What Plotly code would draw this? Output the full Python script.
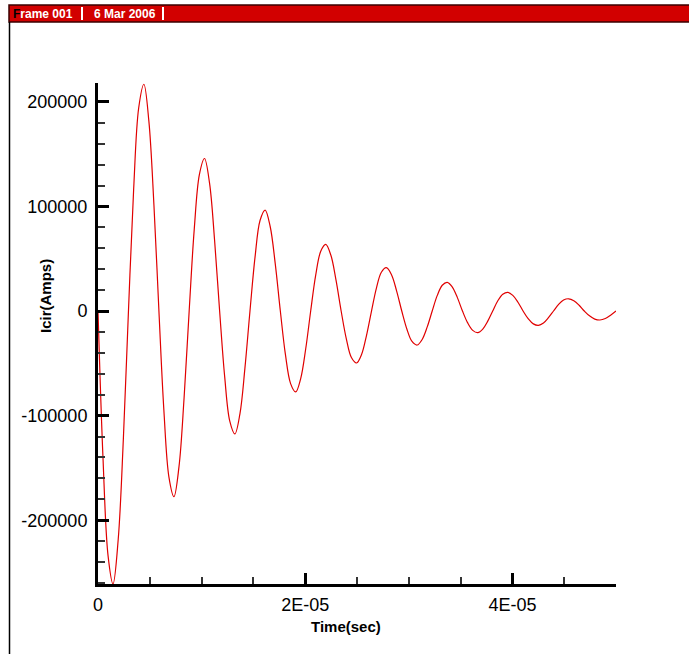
import plotly.graph_objects as go

# Time (microseconds) and circulating current (A)
time_us = [0, 0.48, 0.97, 1.45, 1.95, 2.45, 2.94, 3.44, 3.93, 4.43, 4.91, 5.40,
           5.88, 6.36, 6.85, 7.33, 7.82, 8.31, 8.80, 9.29, 9.79, 10.28, 10.77, 11.25,
           11.74, 12.23, 12.72, 13.21, 13.70, 14.18, 14.67, 15.16, 15.64, 16.13, 16.62, 17.11,
           17.60, 18.09, 18.59, 19.08, 19.56, 20.05, 20.53, 21.01, 21.50, 21.98, 22.48, 22.97,
           23.47, 23.97, 24.46, 24.96, 25.44, 25.92, 26.40, 26.88, 27.35, 27.83, 28.33, 28.82,
           29.32, 29.82, 30.31, 30.81, 31.29, 31.78, 32.26, 32.74, 33.23, 33.71, 34.20, 34.69,
           35.18, 35.67, 36.17, 36.66, 37.14, 37.62, 38.10, 38.58, 39.07, 39.55, 40.04, 40.54,
           41.03, 41.52, 42.02, 42.51, 43.00, 43.48, 43.97, 44.46, 44.94, 45.43, 45.93, 46.44,
           46.94, 47.44, 47.95, 48.45, 48.97, 49.48, 50.0]
icir = [0, -139900, -233900, -261000, -218500, -121900, 0, 116200, 194300, 216800, 181500, 101200,
        0, -95100, -159000, -177500, -148600, -82900, 0, 78100, 130600, 145800, 122000, 68100,
        0, -63000, -105300, -117500, -98300, -54900, 0, 51700, 86500, 96500, 80800, 45100,
        0, -41500, -69400, -77400, -64800, -36100, 0, 34100, 57100, 63700, 53300, 29700,
        0, -26600, -44500, -49700, -41600, -23200, 0, 22200, 37100, 41400, 34700, 19300,
        0, -17400, -29100, -32500, -27200, -15200, 0, 14700, 24600, 27400, 22900, 12800,
        0, -11100, -18500, -20700, -17300, -9700, 0, 9600, 16000, 17900, 15000, 8400,
        0, -7300, -12300, -13700, -11500, -6400, 0, 6300, 10500, 11700, 9800, 5500,
        0, -4600, -7700, -8600, -7200, -4000, 0]
time_s = [t * 1e-6 for t in time_us]

x_tickvals = [0, 2e-5, 4e-5]
x_ticktext = ["0", "2E-05", "4E-05"]
y_tickvals = [-200000, -100000, 0, 100000, 200000]
y_ticktext = ["-200000", "-100000", "0", "100000", "200000"]

W, H = 689, 654
L, R, T, B = 98, 616, 83, 584  # plot area in pixels

def px(x):
    return (x - L) / (R - L)

def py(y):
    return (B - y) / (B - T)

FONT = "Liberation Sans, Arial, sans-serif"

fig = go.Figure()
fig.add_trace(go.Scatter(x=time_s, y=icir, mode="lines",
                         line=dict(color="#E00000", width=1.2, shape="spline", smoothing=1.0),
                         hoverinfo="skip", showlegend=False))

axis_common = dict(showgrid=False, zeroline=False, showline=True, linecolor="black",
                   linewidth=3, ticks="inside", tickcolor="black", tickwidth=3, ticklen=11,
                   tickfont=dict(family=FONT, size=18, color="black"))

fig.update_xaxes(range=[0, 5e-5], tickvals=x_tickvals, ticktext=x_ticktext,
                 minor=dict(ticks="inside", dtick=5e-6, tick0=0, ticklen=7, tickwidth=1.5,
                            tickcolor="#333333"),
                 ticklabelstandoff=2, **axis_common)
fig.update_yaxes(range=[-261000, 218000], tickvals=y_tickvals, ticktext=y_ticktext,
                 minor=dict(ticks="inside", dtick=20000, tick0=0, ticklen=7, tickwidth=1.5,
                            tickcolor="#333333"),
                 ticklabelstandoff=4, **axis_common)

shapes = [
    # header bar
    dict(type="rect", xref="paper", yref="paper", x0=px(9), x1=px(690), y0=py(22), y1=py(5),
         fillcolor="#D20000", line=dict(color="#3a0000", width=1.5), layer="above"),
    dict(type="line", xref="paper", yref="paper", x0=px(82), x1=px(82), y0=py(20), y1=py(7),
         line=dict(color="white", width=2)),
    dict(type="line", xref="paper", yref="paper", x0=px(163), x1=px(163), y0=py(20), y1=py(7),
         line=dict(color="white", width=2)),
    # frame left border
    dict(type="line", xref="paper", yref="paper", x0=px(9.5), x1=px(9.5), y0=py(22), y1=py(660),
         line=dict(color="black", width=1.5)),
]

annotations = [
    dict(text="<span style='color:black'>F</span>rame 001", xref="paper", yref="paper",
         x=px(11), y=py(13.5), xanchor="left", yanchor="middle", showarrow=False,
         font=dict(family=FONT, size=12, color="white", weight="bold")),
    dict(text="6 Mar 2006", xref="paper", yref="paper",
         x=px(92), y=py(13.5), xanchor="left", yanchor="middle", showarrow=False,
         font=dict(family=FONT, size=12, color="white", weight="bold")),
    dict(text="Time(sec)", xref="paper", yref="paper", x=px(346), y=py(626),
         xanchor="center", yanchor="middle", showarrow=False,
         font=dict(family=FONT, size=15, color="black", weight="bold")),
    dict(text="Icir(Amps)", xref="paper", yref="paper", x=px(45), y=py(296),
         xanchor="center", yanchor="middle", showarrow=False, textangle=-90,
         font=dict(family=FONT, size=15, color="black", weight="bold")),
]

fig.update_layout(width=W, height=H, margin=dict(l=L, r=W - R, t=T, b=H - B),
                  paper_bgcolor="white", plot_bgcolor="white",
                  shapes=shapes, annotations=annotations)

fig.write_html("out.html")
